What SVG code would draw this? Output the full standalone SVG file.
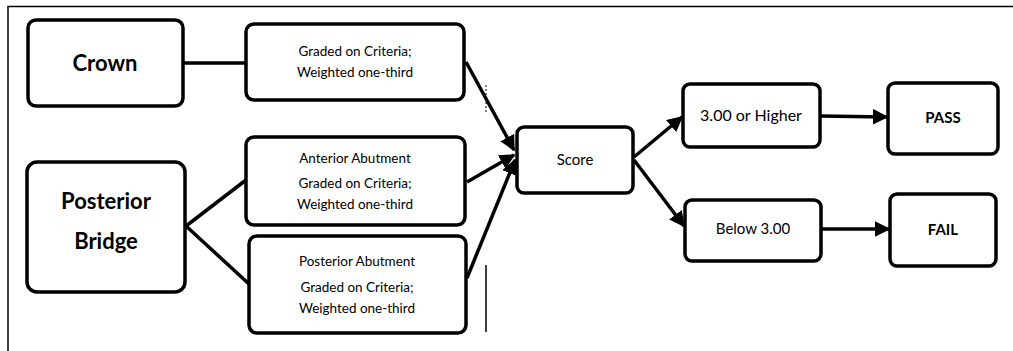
<svg xmlns="http://www.w3.org/2000/svg" width="1013" height="351" viewBox="0 0 1013 351">
<style>
.box{fill:#fff;stroke:#000;stroke-width:3.5}
.t{font-family:Lato,"Liberation Sans",sans-serif;fill:#000;text-anchor:middle}
.s{font-size:13.5px}
.m{font-size:16px}
.b{font-weight:bold}
.line{stroke:#000;stroke-width:3.5;fill:none}
.arr{stroke:#000;stroke-width:3.5;fill:none;marker-end:url(#ah)}
.frame{stroke:#000;stroke-width:1.5;fill:none}
</style>
<defs>
<marker id="ah" viewBox="0 0 10 10" refX="9" refY="5" markerWidth="4.5" markerHeight="4.5" orient="auto" markerUnits="strokeWidth">
<path d="M0,0 L10,5 L0,10 z" fill="#000"/>
</marker>
</defs>
<rect width="1013" height="351" fill="#fff"/>
<path class="frame" d="M8,351 V6.5 H1013"/>
<path class="frame" d="M486,265 V332"/>
<path d="M486,85 V95 M486,102 V112" stroke="#000" stroke-width="1" stroke-dasharray="2,2"/>
<g id="connectors">
<path class="line" d="M183,63 H246"/>
<path class="line" d="M186,226 L246,180"/>
<path class="line" d="M186,226 L249,284"/>
<path class="arr" d="M466,62 L514,150"/>
<path class="arr" d="M467,182 L514,155"/>
<path class="arr" d="M467,278 L515,160"/>
<path class="arr" d="M634,157 L682,117"/>
<path class="arr" d="M634,160 L684,226"/>
<path class="arr" d="M820,116 L887,117"/>
<path class="arr" d="M821,229 L889,229"/>
</g>
<g id="crown"><rect class="box" x="28" y="20" width="155" height="86" rx="8"/><text class="t b" x="105" y="71" font-size="22">Crown</text></g>
<g id="graded1"><rect class="box" x="246" y="24" width="218" height="76" rx="8"/><text class="t s" x="355" y="56">Graded on Criteria;</text><text class="t s" x="355" y="77">Weighted one-third</text></g>
<g id="anterior"><rect class="box" x="246" y="137" width="219" height="88" rx="8"/><text class="t s" x="355" y="163">Anterior Abutment</text><text class="t s" x="355" y="188">Graded on Criteria;</text><text class="t s" x="355" y="209">Weighted one-third</text></g>
<g id="bridge"><rect class="box" x="27" y="162" width="158" height="130" rx="10"/><text class="t b" x="106" y="209" font-size="22">Posterior</text><text class="t b" x="106" y="249" font-size="22">Bridge</text></g>
<g id="posterior"><rect class="box" x="249" y="236" width="217" height="97" rx="8"/><text class="t s" x="357" y="266">Posterior Abutment</text><text class="t s" x="357" y="292">Graded on Criteria;</text><text class="t s" x="357" y="313">Weighted one-third</text></g>
<g id="score"><rect class="box" x="517" y="127" width="116" height="66" rx="7"/><text class="t" x="575" y="165" font-size="15">Score</text></g>
<g id="higher"><rect class="box" x="683" y="84" width="137" height="63" rx="7"/><text class="t m" x="751" y="121">3.00 or Higher</text></g>
<g id="pass"><rect class="box" x="888" y="83" width="110" height="71" rx="7"/><text class="t b" x="943" y="123" font-size="15">PASS</text></g>
<g id="below"><rect class="box" x="685" y="200" width="136" height="61" rx="7"/><text class="t" x="753" y="234" font-size="15">Below 3.00</text></g>
<g id="fail"><rect class="box" x="890" y="194" width="106" height="72" rx="7"/><text class="t b" x="943" y="235" font-size="15">FAIL</text></g>
</svg>
